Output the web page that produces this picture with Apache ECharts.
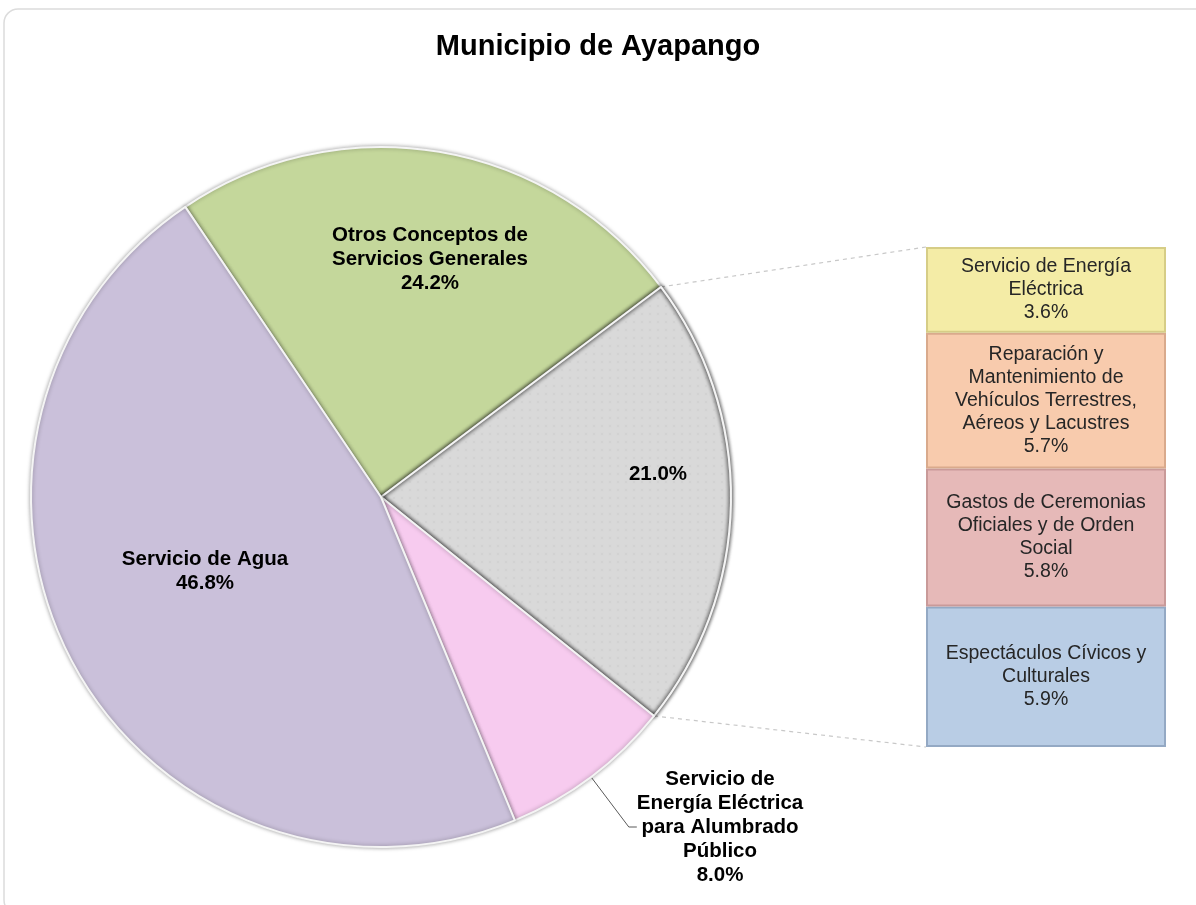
<!DOCTYPE html>
<html>
<head>
    <meta charset="utf-8">
    <title>Municipio de Ayapango</title>
    <script src="https://cdn.jsdelivr.net/npm/echarts@6/dist/echarts.min.js"></script>
    <style>
        html, body { margin: 0; padding: 0; background: #fff; }
        #main { width: 1196px; height: 905px; }
    </style>
</head>
<body>
<div id="main"></div>
<script type="text/javascript">
    // datos del pastel (en sentido horario desde arriba a la izquierda)
    var pieNames = ['Otros Conceptos de\nServicios Generales', 'Otros', 'Servicio de\nEnergía Eléctrica\npara Alumbrado\nPúblico', 'Servicio de Agua'];
    var pieValues = [24.2, 21.0, 8.0, 46.8];
    var pieColors = ['#c4d79b', '#d9d9d9', '#f7cbef', '#cac0da'];

    // desglose del 21.0% (de abajo hacia arriba)
    var barNames = ['Espectáculos Cívicos y\nCulturales', 'Gastos de Ceremonias\nOficiales y de Orden\nSocial', 'Reparación y\nMantenimiento de\nVehículos Terrestres,\nAéreos y Lacustres', 'Servicio de Energía\nEléctrica'];
    var barValues = [5.9, 5.8, 5.7, 3.6];
    var barColors = ['#b9cde5', '#e6b9b8', '#f8cbad', '#f4eca6'];
    var barBorders = ['#94a9c4', '#c99a99', '#d9aa8c', '#d6cd86'];

    var cx = 381, cy = 497, R = 350, startAngle = 124;

    // posiciones de las etiquetas del pastel
    var pieLabelPos = [[430, 259], [658, 474], [720, 827], [205, 571]];

    var myChart = echarts.init(document.getElementById('main'));

    var barSeries = barNames.map(function (name, i) {
        return {
            name: name,
            type: 'bar',
            stack: 'desglose',
            barWidth: '100%',
            data: [barValues[i]],
            itemStyle: {color: barColors[i], borderColor: barBorders[i], borderWidth: 2},
            label: {
                show: true,
                position: 'inside',
                color: '#262626',
                fontFamily: 'Liberation Sans, Arial, sans-serif',
                fontSize: 19.5,
                lineHeight: 23,
                align: 'center',
                formatter: function (p) { return p.seriesName + '\n' + p.value.toFixed(1) + '%'; }
            },
            silent: true
        };
    });

    var frame = {
        type: 'rect',
        shape: {x: 4, y: 9, width: 1220, height: 905, r: 14},
        style: {fill: 'none', stroke: '#dcdcdc', lineWidth: 1.5},
        z: -10
    };

    var option = {
        animation: false,
        title: {
            text: 'Municipio de Ayapango',
            left: 'center',
            top: 27,
            textStyle: {fontFamily: 'Liberation Sans Narrow, Arial Narrow, Liberation Sans, sans-serif', fontSize: 29, fontWeight: 'bold', color: '#000'}
        },
        grid: {left: 926, top: 247, width: 240, height: 500},
        xAxis: {type: 'category', data: [''], show: false},
        yAxis: {type: 'value', min: 0, max: 21, show: false},
        graphic: [frame],
        series: [{
            type: 'pie',
            center: [cx, cy],
            radius: R,
            startAngle: startAngle,
            clockwise: true,
            avoidLabelOverlap: false,
            silent: true,
            data: pieNames.map(function (n, i) {
                var item = {
                    name: n,
                    value: pieValues[i],
                    itemStyle: {color: pieColors[i]},
                    label: {position: i === 2 ? 'outside' : 'inside'},
                    labelLine: {show: i === 2, length: 36, length2: 8, lineStyle: {color: '#595959', width: 1}}
                };
                if (i === 1) {
                    item.itemStyle.decal = {symbol: 'circle', symbolSize: 0.5, dashArrayX: 4, dashArrayY: 4, color: 'rgba(0,0,0,0.04)'};
                }
                return item;
            }),
            itemStyle: {borderColor: '#f4f4f4', borderWidth: 2, shadowBlur: 4, shadowColor: 'rgba(0,0,0,0.35)'},
            label: {
                show: true,
                color: '#000',
                fontFamily: 'Liberation Sans, Arial, sans-serif',
                fontSize: 20.5,
                fontWeight: 'bold',
                lineHeight: 24,
                align: 'center',
                formatter: function (p) {
                    var pct = p.value.toFixed(1) + '%';
                    return p.dataIndex === 1 ? pct : p.name + '\n' + pct;
                }
            },
            labelLayout: function (p) {
                var pos = pieLabelPos[p.dataIndex];
                return {x: pos[0], y: pos[1], align: 'center', verticalAlign: 'middle'};
            }
        }].concat(barSeries)
    };
    myChart.setOption(option);

    // lineas punteadas que unen el sector gris con la barra
    var a1 = (startAngle - pieValues[0] * 3.6) * Math.PI / 180;
    var a2 = (startAngle - (pieValues[0] + pieValues[1]) * 3.6) * Math.PI / 180;
    var topPt = myChart.convertToPixel({yAxisIndex: 0}, 21);
    var botPt = myChart.convertToPixel({yAxisIndex: 0}, 0);
    var barLeft = 926;
    myChart.setOption({
        graphic: [frame, {
            type: 'line',
            shape: {x1: cx + R * Math.cos(a1), y1: cy - R * Math.sin(a1), x2: barLeft, y2: topPt},
            style: {stroke: '#c8c8c8', lineWidth: 1.2, lineDash: [4, 4]}
        }, {
            type: 'line',
            shape: {x1: cx + R * Math.cos(a2), y1: cy - R * Math.sin(a2), x2: barLeft, y2: botPt},
            style: {stroke: '#c8c8c8', lineWidth: 1.2, lineDash: [4, 4]}
        }]
    });
</script>
</body>
</html>
